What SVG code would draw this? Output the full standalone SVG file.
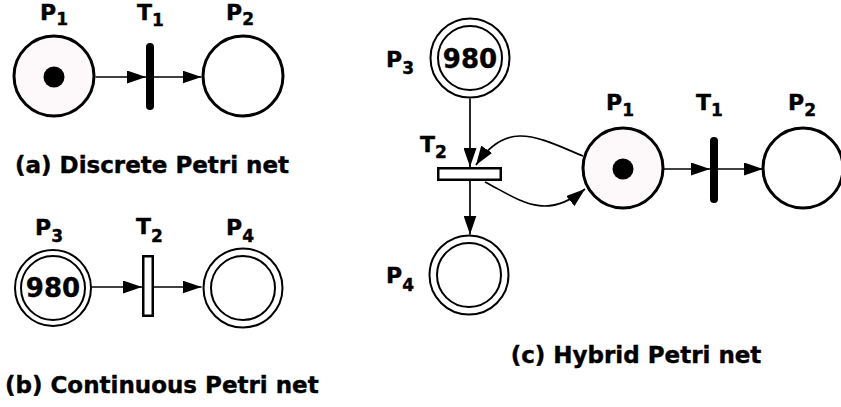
<svg xmlns="http://www.w3.org/2000/svg" width="841" height="407" viewBox="0 0 841 407">
<defs>
<marker id="ah" markerUnits="userSpaceOnUse" markerWidth="19" markerHeight="13" refX="19" refY="6.5" orient="auto">
<path d="M0,0 L19,6.5 L0,13 z" fill="#000"/>
</marker>
<style>
.place{fill:#fff;stroke:#000;stroke-width:3}
.mark{fill:#fdf8fa;stroke:#000;stroke-width:3}
.dbl{fill:#fff;stroke:#000;stroke-width:2}
.bar{stroke:#000;stroke-width:8;stroke-linecap:round}
.cont{fill:#fff;stroke:#000;stroke-width:2.5}
.arc{fill:none;stroke:#000;stroke-width:1.7;marker-end:url(#ah)}
.lbl{font-family:"DejaVu Sans","Noto Sans",sans-serif;font-weight:bold;font-size:22px;fill:#000;stroke:#000;stroke-width:0.4}
.sub{font-size:17px}
.num{font-family:"DejaVu Sans","Noto Sans",sans-serif;font-weight:bold;font-size:26px;fill:#000;stroke:#000;stroke-width:0.4;text-anchor:middle}
.cap{font-family:"DejaVu Sans","Noto Sans",sans-serif;font-weight:bold;font-size:23px;fill:#000;stroke:#000;stroke-width:0.4}
</style>
</defs>
<rect width="841" height="407" fill="#fff"/>

<g id="connectors">
<path class="arc" d="M95.5,77 H146"/>
<path class="arc" d="M154,77 H201.5"/>
<path class="arc" d="M91.5,287 H142"/>
<path class="arc" d="M154,287 H201.5"/>
<path class="arc" d="M470,98.5 V167"/>
<path class="arc" d="M470,181 V234.5"/>
<path class="arc" d="M663,169 H710"/>
<path class="arc" d="M718,169 H763"/>
<path class="arc" d="M583,156 C537,137 507,119 476,165"/>
<path class="arc" d="M485,182 C520,200 545,222 585,189"/>
</g>

<!-- (a) Discrete -->
<g id="a_P1">
<circle class="mark" cx="54" cy="76" r="40"/>
<circle cx="54" cy="77" r="10.5" fill="#000"/>
<text class="lbl" x="40" y="20">P<tspan class="sub" dy="5">1</tspan></text>
</g>
<g id="a_T1">
<line class="bar" x1="150" y1="47" x2="150" y2="106"/>
<text class="lbl" x="137" y="20">T<tspan class="sub" dy="6">1</tspan></text>
</g>
<g id="a_P2">
<circle class="place" cx="243" cy="76" r="40"/>
<text class="lbl" x="226" y="20">P<tspan class="sub" dy="5">2</tspan></text>
</g>
<text class="cap" x="15" y="173">(a) Discrete Petri net</text>

<!-- (b) Continuous -->
<g id="b_P3">
<circle class="dbl" cx="53" cy="288" r="38"/>
<circle class="dbl" cx="53" cy="288" r="32"/>
<text class="num" x="53" y="297">980</text>
<text class="lbl" x="35" y="235">P<tspan class="sub" dy="7">3</tspan></text>
</g>
<g id="b_T2">
<rect class="cont" x="143.25" y="256.25" width="9.5" height="59.5"/>
<text class="lbl" x="136" y="234">T<tspan class="sub" dy="8">2</tspan></text>
</g>
<g id="b_P4">
<circle class="dbl" cx="243" cy="288" r="39.5"/>
<circle class="dbl" cx="243" cy="288" r="32"/>
<text class="lbl" x="226" y="235">P<tspan class="sub" dy="7">4</tspan></text>
</g>
<text class="cap" x="5" y="393">(b) Continuous Petri net</text>

<!-- (c) Hybrid -->
<g id="c_P3">
<circle class="dbl" cx="470" cy="58" r="39.5"/>
<circle class="dbl" cx="470" cy="58" r="32"/>
<text class="num" x="470" y="68">980</text>
<text class="lbl" x="386" y="67">P<tspan class="sub" dy="7">3</tspan></text>
</g>
<g id="c_T2">
<rect class="cont" x="438.25" y="168.25" width="62.5" height="11.5"/>
<text class="lbl" x="420" y="152">T<tspan class="sub" dy="6">2</tspan></text>
</g>
<g id="c_P4">
<circle class="dbl" cx="469" cy="275" r="39.5"/>
<circle class="dbl" cx="469" cy="275" r="32"/>
<text class="lbl" x="386" y="283">P<tspan class="sub" dy="8">4</tspan></text>
</g>
<g id="c_P1">
<circle class="mark" cx="623" cy="168" r="40"/>
<circle cx="623" cy="169" r="10.5" fill="#000"/>
<text class="lbl" x="606" y="110">P<tspan class="sub" dy="6">1</tspan></text>
</g>
<g id="c_T1">
<line class="bar" x1="714" y1="141" x2="714" y2="199"/>
<text class="lbl" x="696" y="110">T<tspan class="sub" dy="6">1</tspan></text>
</g>
<g id="c_P2">
<circle class="place" cx="803" cy="168" r="40"/>
<text class="lbl" x="788" y="110">P<tspan class="sub" dy="6">2</tspan></text>
</g>
<text class="cap" x="636" y="363" text-anchor="middle">(c) Hybrid Petri net</text>
</svg>
